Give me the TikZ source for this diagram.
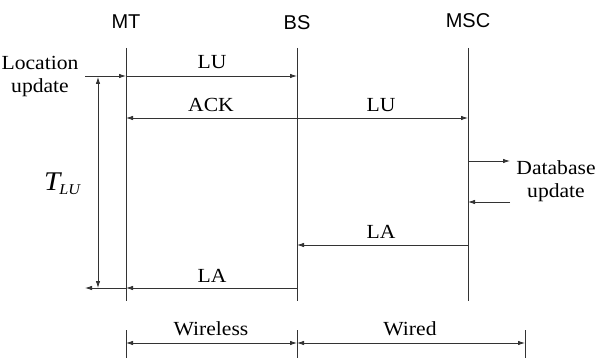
\documentclass[tikz,border=0pt]{standalone}
\usepackage{fontspec}
\setmainfont[FakeStretch=1.08]{Liberation Serif}
\newfontfamily\sansf{Liberation Sans}
\usetikzlibrary{arrows.meta}
\begin{document}
\begin{tikzpicture}[x=1pt,y=-1pt,
  line/.style={draw=black!80, line width=0.8pt},
  msg/.style={line, -{Latex[length=7pt,width=4.5pt]}},
  dbl/.style={line, {Latex[length=7pt,width=4.5pt]}-{Latex[length=7pt,width=4.5pt]}},
  lbl/.style={font=\fontsize{20}{23}\selectfont, inner sep=0pt},
  hdr/.style={font=\sansf\fontsize{20}{22}\selectfont, inner sep=0pt}]
\useasboundingbox (0,0) rectangle (596,358);
% headers
\node[hdr] (mt) at (126,22) {MT};
\node[hdr] (bs) at (297,23) {BS};
\node[hdr] (msc) at (468,21) {MSC};
% lifelines
\coordinate (mtT) at (126,48); \coordinate (mtB) at (126,301);
\coordinate (bsT) at (297,48); \coordinate (bsB) at (297,301);
\coordinate (mscT) at (468,48); \coordinate (mscB) at (468,301);
\draw[line] (mtT) -- (mtB);
\draw[line] (bsT) -- (bsB);
\draw[line] (mscT) -- (mscB);
% location update
\node[lbl, align=center] (loc) at (40,77) {Location\\update};
\coordinate (luS) at (85,76);
\coordinate (mt1) at (126,76); \coordinate (bs1) at (297,76);
\draw[msg] (luS) -- (mt1);
\draw[msg] (mt1) -- (bs1);
\node[lbl] (lu1) at (212,62) {LU};
% ACK / LU
\coordinate (mt2) at (126,118); \coordinate (bs2) at (297,118); \coordinate (msc2) at (468,118);
\draw[msg] (bs2) -- (mt2);
\draw[msg] (bs2) -- (msc2);
\node[lbl] (ack) at (211,105) {ACK};
\node[lbl] (lu2) at (381,105) {LU};
% database update
\coordinate (msc3) at (468,161); \coordinate (db1) at (510,161);
\coordinate (db2) at (510,202); \coordinate (msc4) at (468,202);
\draw[msg] (msc3) -- (db1);
\draw[msg] (db2) -- (msc4);
\node[lbl, align=center] (db) at (556,181) {Database\\update};
% LA
\coordinate (msc5) at (468,245); \coordinate (bs5) at (297,245);
\draw[msg] (msc5) -- (bs5);
\node[lbl] (la1) at (381,232) {LA};
\coordinate (bs6) at (297,288); \coordinate (mt6) at (126,288); \coordinate (laE) at (85,288);
\draw[msg] (bs6) -- (mt6);
\draw[msg] (mt6) -- (laE);
\node[lbl] (la2) at (212,276) {LA};
% T_LU
\coordinate (tT) at (98,77); \coordinate (tB) at (98,288);
\draw[dbl] (tT) -- (tB);
\node[inner sep=0pt] (tlu) at (62,184) {\fontsize{27}{27}\selectfont\itshape T\kern-1pt\raisebox{-4pt}{\fontsize{15}{15}\selectfont LU}};
% bottom
\coordinate (w1T) at (126,330); \coordinate (w1B) at (126,358);
\coordinate (w2T) at (297,330); \coordinate (w2B) at (297,358);
\coordinate (w3T) at (525,330); \coordinate (w3B) at (525,358);
\draw[line] (w1T) -- (w1B);
\draw[line] (w2T) -- (w2B);
\draw[line] (w3T) -- (w3B);
\coordinate (d1) at (126,343); \coordinate (d2) at (297,343); \coordinate (d3) at (525,343);
\draw[dbl] (d1) -- (d2);
\draw[dbl] (d2) -- (d3);
\node[lbl] (wl) at (211,329) {Wireless};
\node[lbl] (wd) at (410,329) {Wired};
\end{tikzpicture}
\end{document}
